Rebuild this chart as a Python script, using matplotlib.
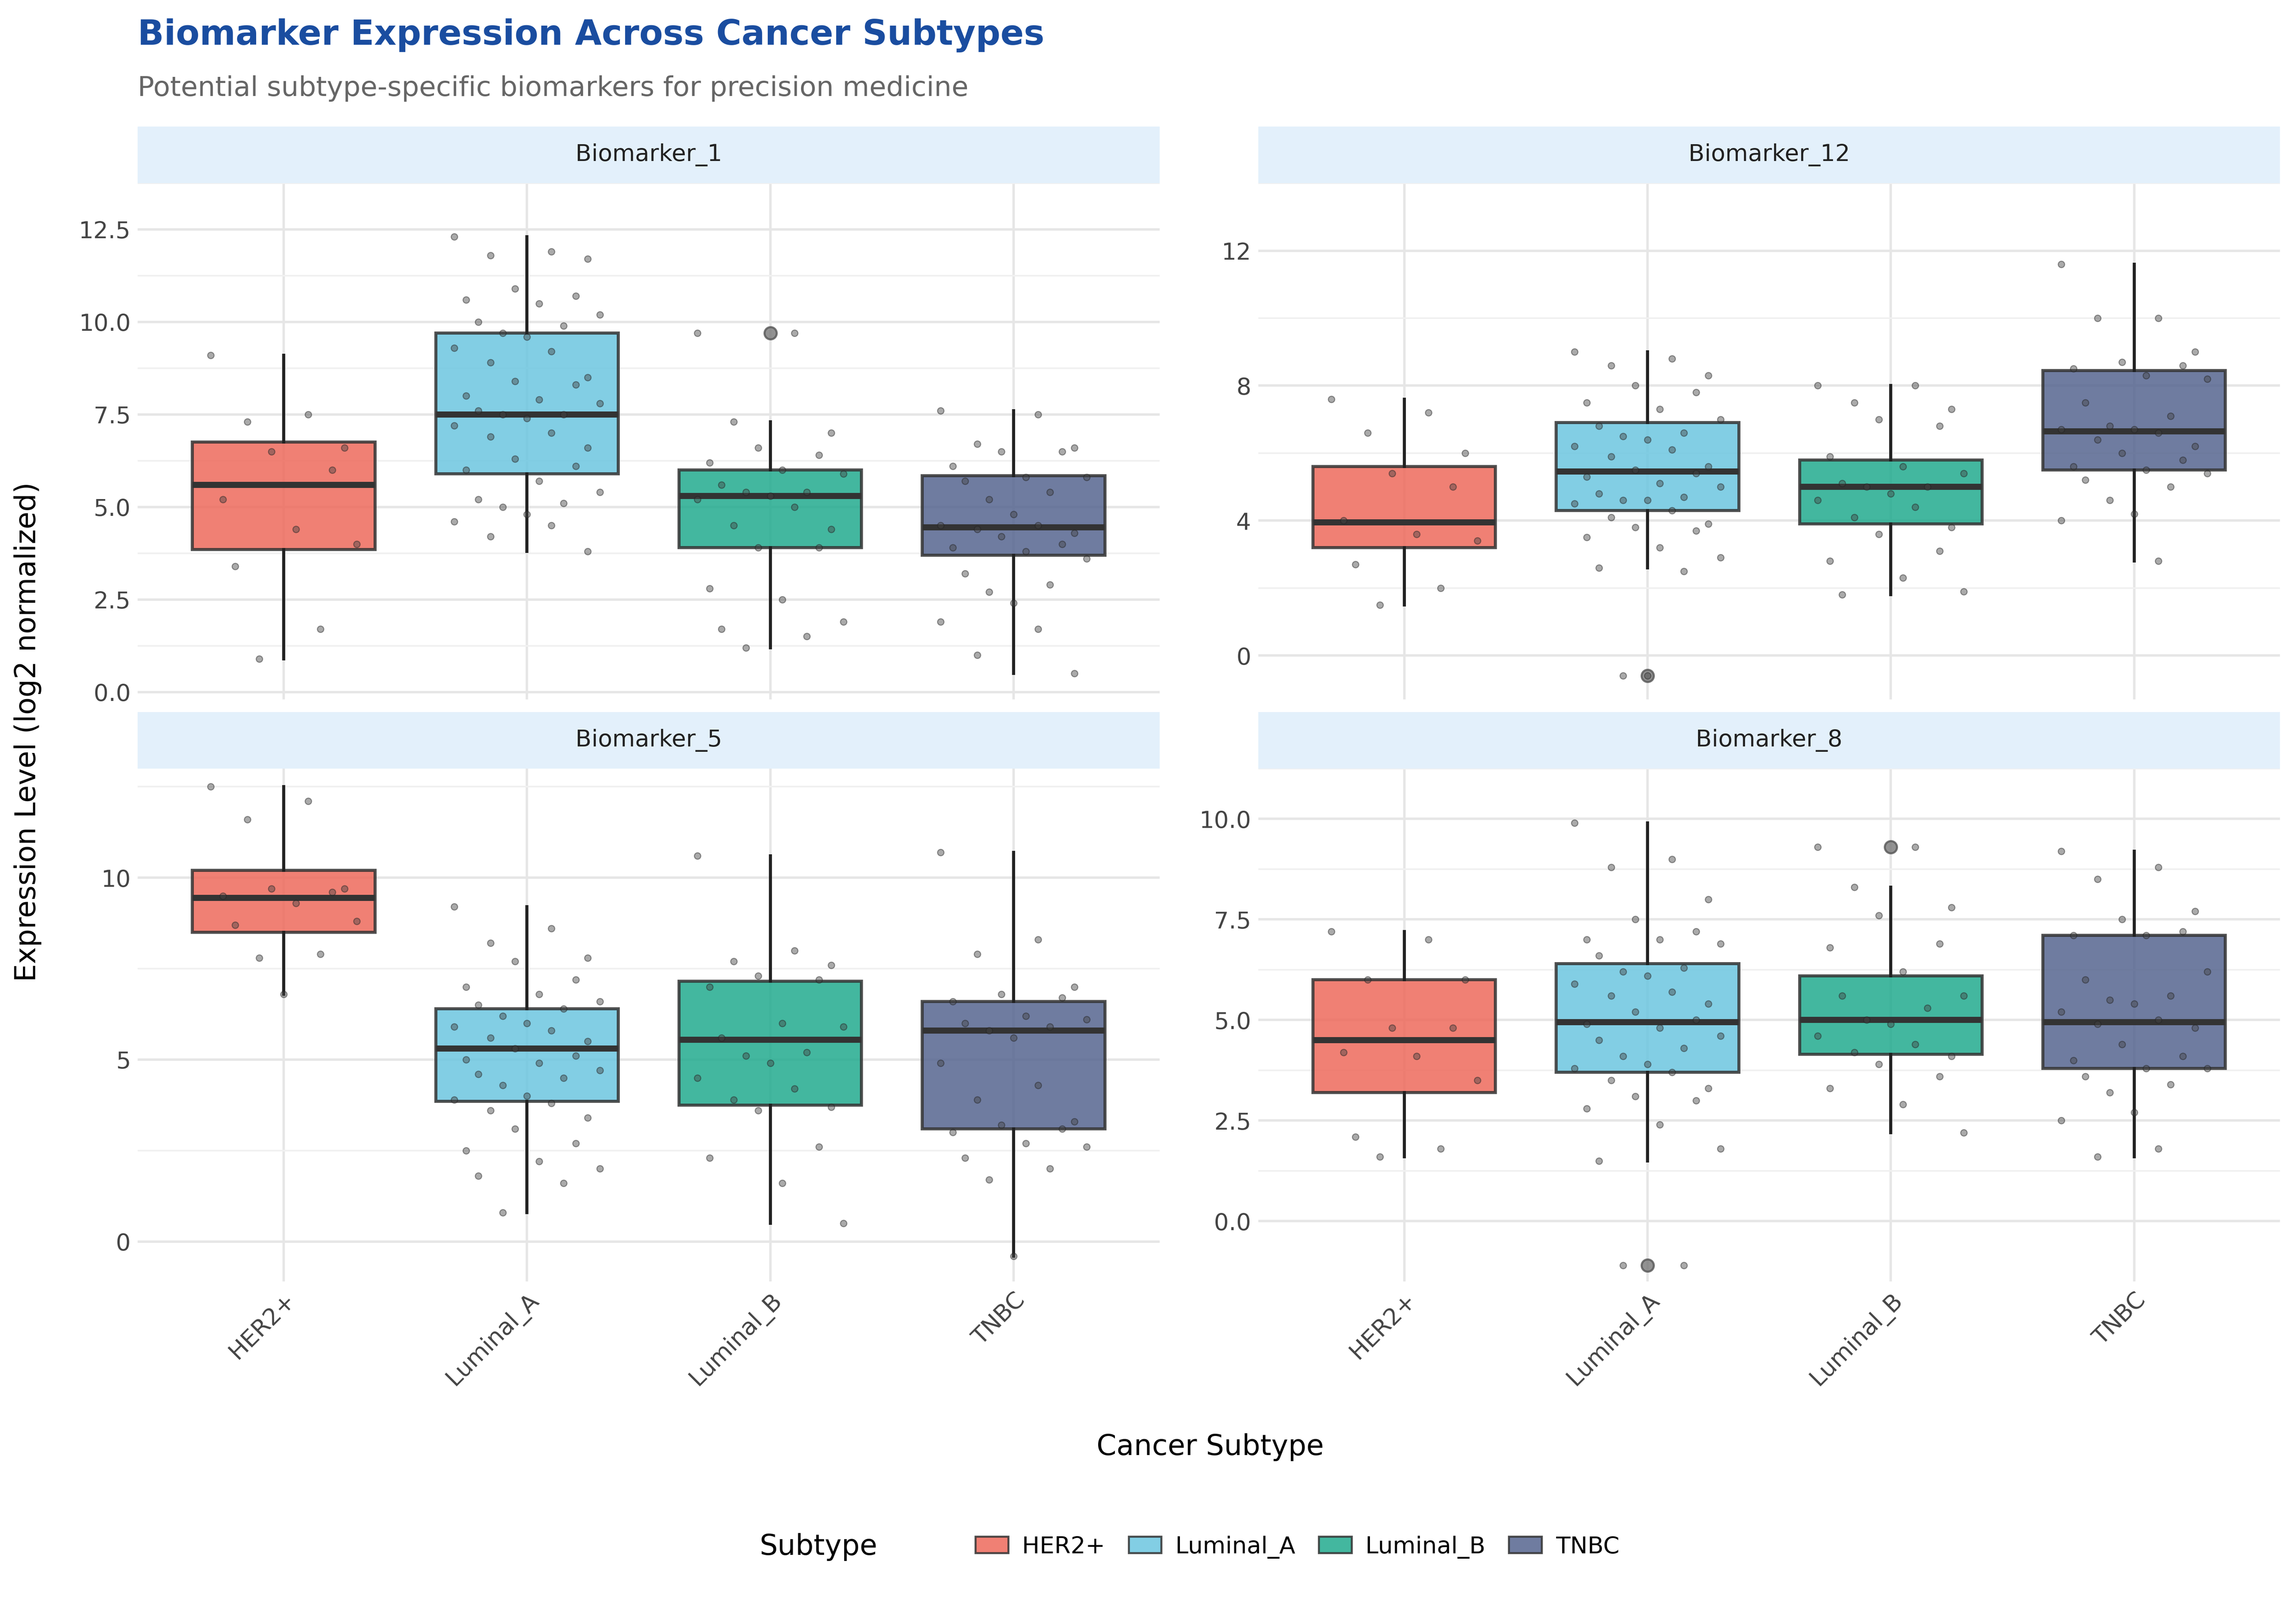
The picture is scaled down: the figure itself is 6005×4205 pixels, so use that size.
import matplotlib.pyplot as plt
from matplotlib.patches import Patch

subtypes = ['HER2+', 'Luminal_A', 'Luminal_B', 'TNBC']
colors = ['#EE6A5C', '#6CC6E0', '#22AB8E', '#56658F']
panels = ['Biomarker_1', 'Biomarker_12', 'Biomarker_5', 'Biomarker_8']

# box stats per panel: (whislo, q1, med, q3, whishi) per subtype
box_stats = {
    'Biomarker_1': [(0.9, 3.85, 5.6, 6.75, 9.1), (3.8, 5.9, 7.5, 9.7, 12.3),
                    (1.2, 3.9, 5.3, 6.0, 7.3), (0.5, 3.7, 4.45, 5.85, 7.6)],
    'Biomarker_12': [(1.5, 3.2, 3.95, 5.6, 7.6), (2.6, 4.3, 5.45, 6.9, 9.0),
                     (1.8, 3.9, 5.0, 5.8, 8.0), (2.8, 5.5, 6.65, 8.45, 11.6)],
    'Biomarker_5': [(6.8, 8.5, 9.45, 10.2, 12.5), (0.8, 3.85, 5.3, 6.4, 9.2),
                    (0.5, 3.75, 5.55, 7.15, 10.6), (-0.4, 3.1, 5.8, 6.6, 10.7)],
    'Biomarker_8': [(1.6, 3.2, 4.5, 6.0, 7.2), (1.5, 3.7, 4.95, 6.4, 9.9),
                    (2.2, 4.15, 5.0, 6.1, 8.3), (1.6, 3.8, 4.95, 7.1, 9.2)],
}
outliers = {
    'Biomarker_1': [[], [], [9.7], []],
    'Biomarker_12': [[], [-0.6], [], []],
    'Biomarker_5': [[], [], [], []],
    'Biomarker_8': [[], [-1.1], [9.3], []],
}
points = {
    'Biomarker_1': [
        [9.1, 7.5, 7.3, 6.6, 6.5, 6.0, 5.2, 4.4, 4.0, 3.4, 1.7, 0.9],
        [12.3, 11.9, 11.8, 11.7, 10.9, 10.7, 10.6, 10.5, 10.2, 10.0, 9.9, 9.7, 9.6, 9.3, 9.2,
         8.9, 8.5, 8.4, 8.3, 8.0, 7.9, 7.8, 7.6, 7.5, 7.5, 7.4, 7.2, 7.0, 6.9, 6.6, 6.3, 6.1,
         6.0, 5.7, 5.4, 5.2, 5.1, 5.0, 4.8, 4.6, 4.5, 4.2, 3.8],
        [9.7, 9.7, 7.3, 7.0, 6.6, 6.4, 6.2, 6.0, 5.9, 5.6, 5.4, 5.4, 5.3, 5.2, 5.0, 4.5, 4.4,
         3.9, 3.9, 2.8, 2.5, 1.9, 1.7, 1.5, 1.2],
        [7.6, 7.5, 6.7, 6.6, 6.5, 6.5, 6.1, 5.8, 5.8, 5.7, 5.4, 5.2, 4.8, 4.5, 4.5, 4.4,
         4.3, 4.2, 4.0, 3.9, 3.8, 3.6, 3.2, 2.9, 2.7, 2.4, 1.9, 1.7, 1.0, 0.5],
    ],
    'Biomarker_12': [
        [7.6, 7.2, 6.6, 6.0, 5.4, 5.0, 4.0, 3.6, 3.4, 2.7, 2.0, 1.5],
        [9.0, 8.8, 8.6, 8.3, 8.0, 7.8, 7.5, 7.3, 7.0, 6.8, 6.6, 6.5, 6.4, 6.2, 6.1, 5.9,
         5.6, 5.5, 5.4, 5.3, 5.1, 5.0, 4.8, 4.7, 4.6, 4.6, 4.5, 4.3, 4.1, 3.9, 3.8, 3.7,
         3.5, 3.2, 2.9, 2.6, 2.5, -0.6, -0.6],
        [8.0, 8.0, 7.5, 7.3, 7.0, 6.8, 5.9, 5.6, 5.4, 5.1, 5.0, 5.0, 4.8, 4.6, 4.4, 4.1,
         3.8, 3.6, 3.1, 2.8, 2.3, 1.9, 1.8],
        [11.6, 10.0, 10.0, 9.0, 8.7, 8.6, 8.5, 8.3, 8.2, 7.5, 7.1, 6.8, 6.7, 6.7, 6.6, 6.4,
         6.2, 6.0, 5.8, 5.6, 5.5, 5.4, 5.2, 5.0, 4.6, 4.2, 4.0, 2.8],
    ],
    'Biomarker_5': [
        [12.5, 12.1, 11.6, 9.7, 9.7, 9.6, 9.5, 9.3, 8.8, 8.7, 7.9, 7.8, 6.8],
        [9.2, 8.6, 8.2, 7.8, 7.7, 7.2, 7.0, 6.8, 6.6, 6.5, 6.4, 6.2, 6.0, 5.9, 5.8, 5.6,
         5.5, 5.3, 5.1, 5.0, 4.9, 4.7, 4.6, 4.5, 4.3, 4.0, 3.9, 3.8, 3.6, 3.4, 3.1, 2.7,
         2.5, 2.2, 2.0, 1.8, 1.6, 0.8],
        [10.6, 8.0, 7.7, 7.6, 7.3, 7.2, 7.0, 6.0, 5.9, 5.6, 5.2, 5.1, 4.9, 4.5, 4.2, 3.9,
         3.7, 3.6, 2.6, 2.3, 1.6, 0.5],
        [10.7, 8.3, 7.9, 7.0, 6.8, 6.7, 6.6, 6.2, 6.1, 6.0, 5.9, 5.8, 5.6, 4.9, 4.3, 3.9,
         3.3, 3.2, 3.1, 3.0, 2.7, 2.6, 2.3, 2.0, 1.7, -0.4],
    ],
    'Biomarker_8': [
        [7.2, 7.0, 6.0, 6.0, 4.8, 4.8, 4.2, 4.1, 3.5, 2.1, 1.8, 1.6],
        [9.9, 9.0, 8.8, 8.0, 7.5, 7.2, 7.0, 7.0, 6.9, 6.6, 6.3, 6.2, 6.1, 5.9, 5.7, 5.6,
         5.4, 5.2, 5.0, 4.9, 4.8, 4.6, 4.5, 4.3, 4.1, 3.9, 3.8, 3.7, 3.5, 3.3, 3.1, 3.0,
         2.8, 2.4, 1.8, 1.5, -1.1, -1.1],
        [9.3, 9.3, 8.3, 7.8, 7.6, 6.9, 6.8, 6.2, 5.6, 5.6, 5.3, 5.0, 4.9, 4.6, 4.4, 4.2,
         4.1, 3.9, 3.6, 3.3, 2.9, 2.2],
        [9.2, 8.8, 8.5, 7.7, 7.5, 7.2, 7.1, 7.1, 6.2, 6.0, 5.6, 5.5, 5.4, 5.2, 5.0, 4.9,
         4.8, 4.4, 4.1, 4.0, 3.8, 3.8, 3.6, 3.4, 3.2, 2.7, 2.5, 1.8, 1.6],
    ],
}
yticks = {
    'Biomarker_1': [0, 2.5, 5, 7.5, 10, 12.5],
    'Biomarker_12': [0, 4, 8, 12],
    'Biomarker_5': [0, 5, 10],
    'Biomarker_8': [0, 2.5, 5, 7.5, 10],
}
ytlabels = {
    'Biomarker_1': ['0.0', '2.5', '5.0', '7.5', '10.0', '12.5'],
    'Biomarker_12': ['0', '4', '8', '12'],
    'Biomarker_5': ['0', '5', '10'],
    'Biomarker_8': ['0.0', '2.5', '5.0', '7.5', '10.0'],
}
ylims = {
    'Biomarker_1': (-0.2, 12.9),
    'Biomarker_12': (-1.3, 12.3),
    'Biomarker_5': (-1.1, 13.0),
    'Biomarker_8': (-1.5, 10.5),
}

jitter = [-0.3, 0.1, -0.15, 0.25, -0.05, 0.2, -0.25, 0.05, 0.3, -0.2, 0.15, -0.1, 0.0]

plt.rcParams['font.family'] = 'DejaVu Sans'
fig = plt.figure(figsize=(15.68, 10.98), dpi=383)
axes = [fig.add_axes(r) for r in [(0.06, 0.565, 0.445, 0.321), (0.548, 0.565, 0.445, 0.321),
                                  (0.06, 0.203, 0.445, 0.319), (0.548, 0.203, 0.445, 0.319)]]

for ax, name in zip(axes, panels):
    stats = []
    for i, s in enumerate(box_stats[name]):
        stats.append(dict(whislo=s[0], q1=s[1], med=s[2], q3=s[3], whishi=s[4],
                          fliers=outliers[name][i]))
    bp = ax.bxp(stats, positions=range(4), widths=0.75, patch_artist=True, showcaps=False,
                boxprops=dict(edgecolor='#333333', linewidth=1.5),
                medianprops=dict(color='#333333', linewidth=3),
                whiskerprops=dict(color='#222222', linewidth=1.5),
                flierprops=dict(marker='o', markerfacecolor='#777777', markeredgecolor='#555555',
                                markersize=6, alpha=0.8), zorder=2)
    for patch, c in zip(bp['boxes'], colors):
        patch.set_facecolor(c)
        patch.set_alpha(0.85)
    for i, vals in enumerate(points[name]):
        xs = [i + jitter[k % len(jitter)] for k in range(len(vals))]
        ax.scatter(xs, vals, s=10, color='#444444', alpha=0.45, edgecolors='#222222',
                   linewidths=0.5, zorder=3)
    ax.set_xlim(-0.6, 3.6)
    ax.set_ylim(*ylims[name])
    ax.set_yticks(yticks[name])
    ax.set_yticklabels(ytlabels[name], fontsize=11.5, color='#444444')
    ax.set_yticks([(a + b) / 2 for a, b in zip(yticks[name][:-1], yticks[name][1:])] +
                  [yticks[name][-1] + (yticks[name][1] - yticks[name][0]) / 2], minor=True)
    ax.grid(True, which='major', color='#E6E6E6', linewidth=1.2, zorder=0)
    ax.grid(True, which='minor', axis='y', color='#F0F0F0', linewidth=0.8, zorder=0)
    ax.set_axisbelow(True)
    ax.tick_params(length=0, which='both')
    for sp in ax.spines.values():
        sp.set_visible(False)
    ax.set_xticks(range(4))
    if name in ('Biomarker_5', 'Biomarker_8'):
        ax.set_xticklabels(subtypes, rotation=45, ha='right', rotation_mode='anchor',
                           fontsize=11.5, color='#444444')
    else:
        ax.set_xticklabels([])
    strip = plt.Rectangle((0, 1.0), 1, 0.11, transform=ax.transAxes, fc='#E3F0FB', ec='none',
                          clip_on=False, zorder=-1)
    ax.add_patch(strip)
    ax.text(0.5, 1.055, name, transform=ax.transAxes, ha='center', va='center', fontsize=11.5,
            color='#222222')

fig.text(0.06, 0.978, 'Biomarker Expression Across Cancer Subtypes', fontsize=17,
         fontweight='bold', color='#1A4DA0', va='center')
fig.text(0.06, 0.945, 'Potential subtype-specific biomarkers for precision medicine',
         fontsize=13.5, color='#666666', va='center')
fig.text(0.012, 0.545, 'Expression Level (log2 normalized)', rotation=90, fontsize=14,
         va='center', ha='center')
fig.text(0.527, 0.1, 'Cancer Subtype', fontsize=14, ha='center', va='center')

handles = [Patch(facecolor=c, edgecolor='#333333', alpha=0.85, label=s)
           for s, c in zip(subtypes, colors)]
fig.legend(handles=handles, loc='center', bbox_to_anchor=(0.565, 0.038), ncol=4, frameon=False,
           fontsize=11.5, handlelength=1.4, columnspacing=1.0, handletextpad=0.6)
fig.text(0.382, 0.038, 'Subtype', fontsize=14, ha='right', va='center')

fig.savefig('out.png', dpi=383, facecolor='white')
